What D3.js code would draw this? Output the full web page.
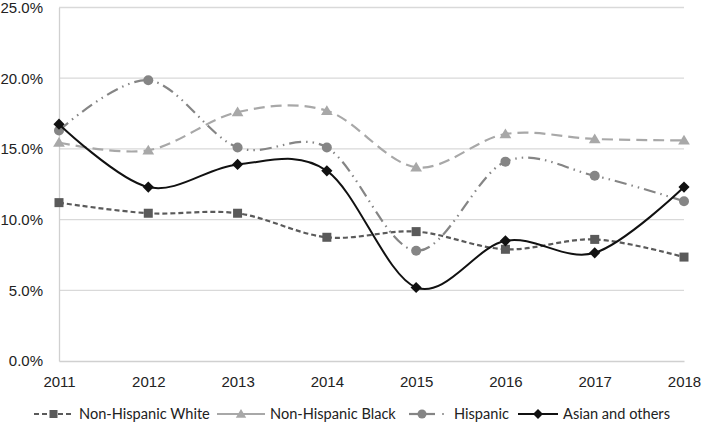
<!DOCTYPE html>
<html>
<head>
<meta charset="utf-8">
<script src="https://cdn.jsdelivr.net/npm/d3@7"></script>
<style>
  body { margin: 0; background: #fff; }
  svg { display: block; font-family: Lato, "Open Sans", sans-serif; }
</style>
</head>
<body>
<svg id="chart" width="706" height="426"></svg>
<script>
// data (percent)
const years = ['2011', '2012', '2013', '2014', '2015', '2016', '2017', '2018']
const yTicks = [0, 5, 10, 15, 20, 25]
const seriesNames = ['Non-Hispanic White', 'Non-Hispanic Black', 'Hispanic', 'Asian and others']
const whiteVals = [11.2, 10.45, 10.45, 8.75, 9.15, 7.9, 8.6, 7.35]
const blackVals = [15.45, 14.9, 17.6, 17.7, 13.7, 16.05, 15.7, 15.6]
const hispanicVals = [16.3, 19.85, 15.1, 15.1, 7.8, 14.1, 13.1, 11.3]
const asianVals = [16.75, 12.3, 13.9, 13.45, 5.2, 8.5, 7.65, 12.3]

const styles = [
  {color: '#5a5a5a', dash: '5,3', marker: 'square'},
  {color: '#a8a8a8', dash: '11,6', marker: 'triangle'},
  {color: '#858585', dash: '12,5,1.5,5,1.5,5', marker: 'circle'},
  {color: '#111111', dash: null, marker: 'diamond'}
]
const allVals = [whiteVals, blackVals, hispanicVals, asianVals]

const margin = {top: 7.5, right: 22, bottom: 65, left: 59}
const svg = d3.select('#chart')
const width = +svg.attr('width'), height = +svg.attr('height')
const innerW = width - margin.left - margin.right
const innerH = height - margin.top - margin.bottom

const g = svg.append('g').attr('transform', `translate(${margin.left},${margin.top})`)

const x = d3.scalePoint().domain(years).range([0, innerW])
const y = d3.scaleLinear().domain([0, 25]).range([innerH, 0])

// gridlines
g.append('g')
  .selectAll('line')
  .data(yTicks.filter(d => d > 0))
  .join('line')
    .attr('x1', 0).attr('x2', innerW)
    .attr('y1', d => y(d)).attr('y2', d => y(d))
    .attr('stroke', '#d9d9d9').attr('stroke-width', 1.3)

// y axis
const yAxis = g.append('g')
  .call(d3.axisLeft(y).tickValues(yTicks).tickSize(0).tickPadding(16).tickFormat(d => d.toFixed(1) + '%'))
yAxis.select('.domain').attr('stroke', '#d0d0d0').attr('stroke-width', 1.3)
yAxis.selectAll('text').attr('font-size', 15).attr('fill', '#222').attr('font-family', 'inherit')

// x axis
const xAxis = g.append('g').attr('transform', `translate(0,${innerH})`)
  .call(d3.axisBottom(x).tickSize(0).tickPadding(15))
xAxis.select('.domain').attr('stroke', '#d0d0d0').attr('stroke-width', 1.3)
xAxis.selectAll('text').attr('font-size', 15).attr('fill', '#222').attr('font-family', 'inherit')

function drawMarker(sel, type, color, size) {
  if (type === 'square') {
    sel.append('rect').attr('x', -size/2).attr('y', -size/2).attr('width', size).attr('height', size).attr('fill', color)
  } else if (type === 'triangle') {
    const s = size * 0.62
    sel.append('path').attr('d', `M0,${-s}L${s*1.05},${s*0.75}L${-s*1.05},${s*0.75}Z`).attr('fill', color)
  } else if (type === 'circle') {
    sel.append('circle').attr('r', size/2 + 0.5).attr('fill', color)
  } else {
    const s = size * 0.62
    sel.append('path').attr('d', `M0,${-s}L${s},0L0,${s}L${-s},0Z`).attr('fill', color)
  }
}

const line = d3.line()
  .x((d, i) => x(years[i]))
  .y(d => y(d))
  .curve(d3.curveCardinal.tension(0))

allVals.forEach((vals, k) => {
  const st = styles[k]
  g.append('path')
    .datum(vals)
    .attr('d', line)
    .attr('fill', 'none')
    .attr('stroke', st.color)
    .attr('stroke-width', k === 3 ? 2 : 2.2)
    .attr('stroke-dasharray', st.dash)
  vals.forEach((v, i) => {
    const m = g.append('g').attr('transform', `translate(${x(years[i])},${y(v)})`)
    drawMarker(m, st.marker, st.color, 9)
  })
})

// legend: line start, line end, text start
const legendY = 414
const legendItems = [
  {x1: 34, x2: 73, textX: 79},
  {x1: 217, x2: 265, textX: 270},
  {x1: 409, x2: 435, textX: 454},
  {x1: 518, x2: 558, textX: 563}
]
const legend = svg.append('g')
seriesNames.forEach((name, k) => {
  const st = styles[k]
  const it = legendItems[k]
  const lg = legend.append('g')
  lg.append('line').attr('x1', it.x1).attr('x2', it.x2).attr('y1', legendY).attr('y2', legendY)
    .attr('stroke', st.color).attr('stroke-width', 2.2)
    .attr('stroke-dasharray', k === 0 ? '5,3' : null)
  if (k === 2) {
    lg.append('circle').attr('cx', 443).attr('cy', legendY).attr('r', 1).attr('fill', st.color)
  }
  const mk = lg.append('g').attr('transform', `translate(${(it.x1 + it.x2) / 2},${legendY})`)
  drawMarker(mk, st.marker, st.color, 8)
  lg.append('text')
    .attr('x', it.textX).attr('y', legendY)
    .attr('dy', '0.35em')
    .attr('font-size', 14.6)
    .attr('fill', '#222')
    .text(name)
})
</script>
</body>
</html>
